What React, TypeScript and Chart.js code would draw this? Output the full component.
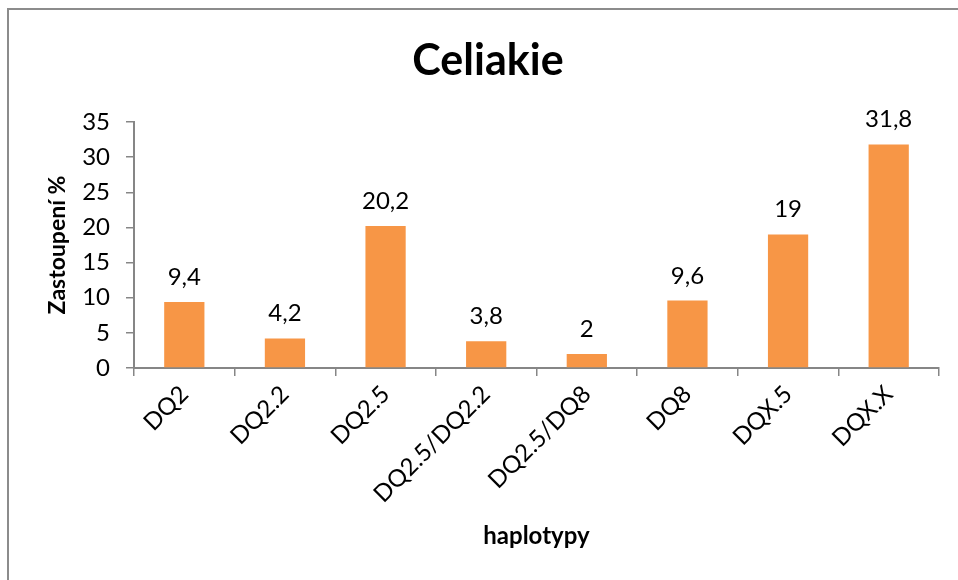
import React, { useEffect, useRef } from "react";
import { Chart, registerables } from "chart.js";

Chart.register(...registerables);

const chartTitle = "Celiakie";
const xTitle = "haplotypy";
const yTitle = "Zastoupení %";
const categories = ["DQ2", "DQ2.2", "DQ2.5", "DQ2.5/DQ2.2", "DQ2.5/DQ8", "DQ8", "DQX.5", "DQX.X"];
const values = [9.4, 4.2, 20.2, 3.8, 2, 9.6, 19, 31.8];
const yMin = 0;
const yMax = 35;
const yStep = 5;

const FONT = "Lato, 'Open Sans', sans-serif";
const AXIS_COLOR = "#868686";

const barLabels = {
  id: "barLabels",
  afterDatasetsDraw(chart: any) {
    const ctx = chart.ctx;
    const meta = chart.getDatasetMeta(0);
    const data = chart.data.datasets[0].data;
    ctx.save();
    ctx.font = `24px ${FONT}`;
    ctx.fillStyle = "#000";
    ctx.textAlign = "center";
    ctx.textBaseline = "alphabetic";
    meta.data.forEach((el: any, i: number) => {
      const v = data[i];
      ctx.fillText(String(v).replace(".", ","), el.x, el.y - 17);
    });
    ctx.restore();
  },
};

export default function App() {
  const ref = useRef<HTMLCanvasElement | null>(null);

  useEffect(() => {
    if (!ref.current) return;
    const chart = new Chart(ref.current, {
      type: "bar",
      data: {
        labels: categories,
        datasets: [
          {
            data: values,
            backgroundColor: "#F79646",
            borderWidth: 0,
            barPercentage: 0.4,
            categoryPercentage: 1.0,
            yAxisID: "y",
          },
        ],
      },
      options: {
        responsive: false,
        maintainAspectRatio: false,
        devicePixelRatio: 1,
        animation: false,
        layout: { padding: { top: 0, left: 18, right: 0, bottom: 0 } },
        plugins: {
          legend: { display: false },
          tooltip: { enabled: false },
          title: {
            display: true,
            text: chartTitle,
            color: "#000",
            font: { family: FONT, size: 43, weight: "bold" },
            padding: { top: 35, bottom: 35.4 },
          },
        },
        scales: {
          x: {
            type: "category",
            offset: true,
            grid: {
              offset: true,
              drawOnChartArea: false,
              drawTicks: true,
              tickLength: 8,
              color: AXIS_COLOR,
              lineWidth: 1.5,
            },
            border: { color: AXIS_COLOR, width: 2 },
            ticks: {
              maxRotation: 45,
              minRotation: 45,
              autoSkip: false,
              color: "#000",
              font: { family: FONT, size: 24 },
              padding: 4,
            },
            title: {
              display: true,
              text: xTitle,
              color: "#000",
              font: { family: FONT, size: 24, weight: "bold" },
              padding: { top: 0, bottom: 29 },
            },
            afterFit: (s: any) => {
              s.height = 212;
            },
          },
          y: {
            position: "left",
            min: yMin,
            max: yMax,
            grid: {
              drawOnChartArea: false,
              drawTicks: true,
              tickLength: 8,
              color: AXIS_COLOR,
              lineWidth: 1.5,
            },
            border: { color: AXIS_COLOR, width: 2 },
            ticks: {
              stepSize: yStep,
              color: "#000",
              font: { family: FONT, size: 24 },
              padding: 16,
            },
            title: {
              display: true,
              text: yTitle,
              color: "#000",
              font: { family: FONT, size: 23, weight: "bold" },
              padding: { top: 26, bottom: 0 },
            },
            afterFit: (s: any) => {
              s.width = 116;
            },
          },
          yRight: {
            type: "linear",
            position: "right",
            display: true,
            grid: { display: false, drawTicks: false },
            border: { display: false },
            ticks: { display: false },
            afterFit: (s: any) => {
              s.width = 19;
            },
          },
        },
      },
      plugins: [barLabels],
    });
    return () => chart.destroy();
  }, []);

  return (
    <div style={{ position: "fixed", left: 0, top: 0, width: 958, height: 580, background: "#fff", overflow: "hidden" }}>
      <canvas ref={ref} width={958} height={580} style={{ position: "absolute", left: 0, top: 0 }} />
      <div
        style={{
          position: "absolute",
          left: 7,
          top: 8,
          width: 1000,
          height: 1000,
          borderTop: "2px solid #8c8c8c",
          borderLeft: "2px solid #8c8c8c",
          pointerEvents: "none",
        }}
      />
    </div>
  );
}
